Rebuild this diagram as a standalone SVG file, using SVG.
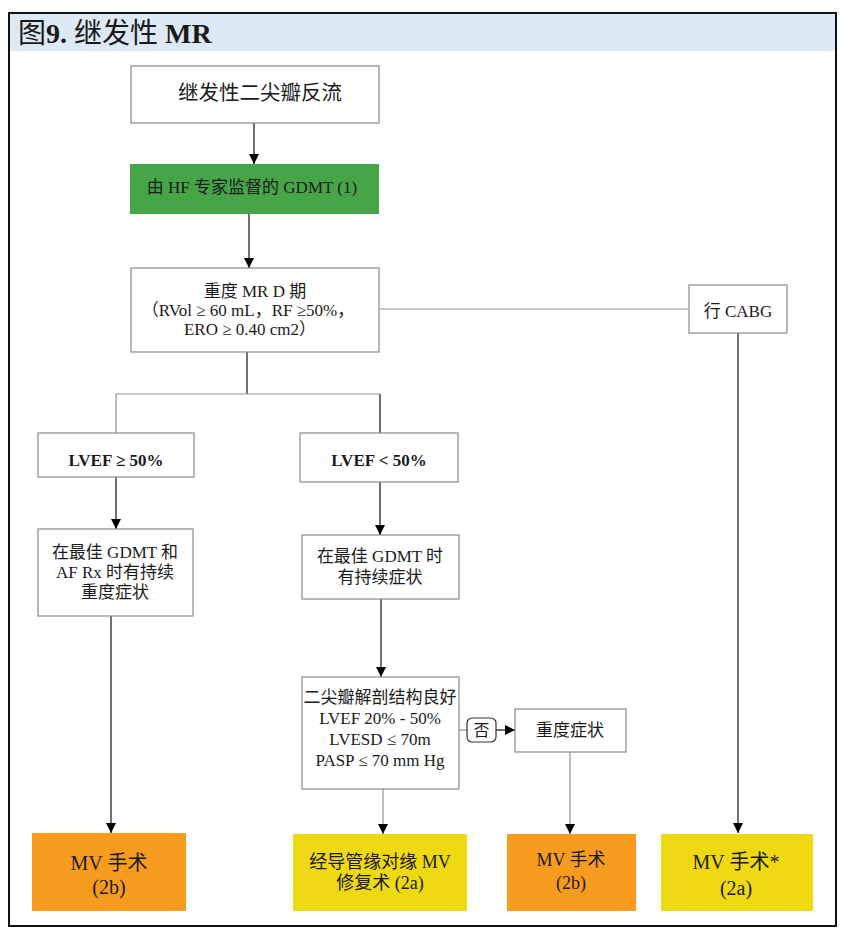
<svg xmlns="http://www.w3.org/2000/svg" width="848" height="934" viewBox="0 0 848 934">
<style>
text{font-family:"Liberation Serif","Noto Sans CJK SC",serif;fill:#1a1a1a;text-anchor:middle;dominant-baseline:central}
.box{fill:#fff;stroke:#8a8a8a;stroke-width:1.2}
.b{font-weight:bold}
.ln{fill:none;stroke:#111;stroke-width:1.2}
.lg{fill:none;stroke:#8f8f8f;stroke-width:1.2}
.t16{font-size:17px}
</style>
<defs>
<marker id="ar" viewBox="0 0 10 10" refX="10" refY="5" markerWidth="10" markerHeight="10" markerUnits="userSpaceOnUse" orient="auto">
<path d="M0,0 L10,5 L0,10 z" fill="#000"/>
</marker>
</defs>
<rect x="0" y="0" width="848" height="934" fill="#fff"/>
<rect x="10" y="14" width="825" height="37" fill="#dde9f5"/>
<rect x="9" y="13" width="827" height="913" fill="none" stroke="#111" stroke-width="2"/>
<text x="18" y="33" style="text-anchor:start;font-size:28px"><tspan>图</tspan><tspan font-weight="bold">9.</tspan><tspan> 继发性 </tspan><tspan font-weight="bold">MR</tspan></text>

<g id="connectors">
<line class="ln" x1="254" y1="123" x2="254" y2="164" marker-end="url(#ar)"/>
<line class="ln" x1="249" y1="214" x2="249" y2="268" marker-end="url(#ar)"/>
<line class="lg" x1="379" y1="309" x2="689" y2="309"/>
<line class="ln" x1="738" y1="333" x2="738" y2="833" marker-end="url(#ar)"/>
<line class="ln" x1="247" y1="352" x2="247" y2="394"/>
<polyline class="lg" points="116,433 116,394 380,394"/>
<line class="ln" x1="380" y1="394" x2="380" y2="433"/>
<line class="ln" x1="116" y1="477" x2="116" y2="529" marker-end="url(#ar)"/>
<line class="ln" x1="380" y1="482" x2="380" y2="535" marker-end="url(#ar)"/>
<line class="ln" x1="111" y1="616" x2="111" y2="833" marker-end="url(#ar)"/>
<line class="ln" x1="381" y1="599" x2="381" y2="677" marker-end="url(#ar)"/>
<line class="lg" x1="383" y1="789" x2="383" y2="834" marker-end="url(#ar)"/>
<line class="lg" x1="459" y1="730" x2="467" y2="730"/>
<line class="ln" x1="496" y1="730" x2="515" y2="730" marker-end="url(#ar)"/>
<line class="lg" x1="570" y1="752" x2="570" y2="834" marker-end="url(#ar)"/>
<g id="label-no">
<rect x="467" y="718" width="29" height="24" rx="5" fill="#fff" stroke="#333" stroke-width="1.2"/>
<text x="481.5" y="730" style="font-size:16px">否</text>
</g>
</g>

<g id="n-start">
<rect class="box" x="131" y="66" width="248" height="57"/>
<text x="260" y="93" style="font-size:20.5px">继发性二尖瓣反流</text>
</g>
<g id="n-gdmt">
<rect x="130" y="164" width="249" height="50" fill="#45a547"/>
<text x="252" y="187" class="t16">由 HF 专家监督的 GDMT (1)</text>
</g>
<g id="n-stageD">
<rect class="box" x="131" y="268" width="248" height="84"/>
<text x="255" y="291" class="t16">重度 MR D 期</text>
<text x="248" y="310" class="t16">（RVol ≥ 60 mL，RF ≥50%，</text>
<text x="250" y="329" class="t16">ERO ≥ 0.40 cm2）</text>
</g>
<g id="n-cabg">
<rect class="box" x="689" y="285" width="98" height="48"/>
<text x="738" y="311" class="t16">行 CABG</text>
</g>
<g id="n-lvef-hi">
<rect class="box" x="38" y="433" width="156" height="44"/>
<text x="116" y="460" class="t16 b">LVEF ≥ 50%</text>
</g>
<g id="n-lvef-lo">
<rect class="box" x="300" y="433" width="158" height="49"/>
<text x="379" y="460" class="t16 b">LVEF &lt; 50%</text>
</g>
<g id="n-left-sym">
<rect class="box" x="38" y="529" width="155" height="87"/>
<text x="115" y="552" class="t16">在最佳 GDMT 和</text>
<text x="115" y="572" class="t16">AF Rx 时有持续</text>
<text x="115" y="592" class="t16">重度症状</text>
</g>
<g id="n-right-sym">
<rect class="box" x="302" y="535" width="157" height="64"/>
<text x="380" y="556" class="t16">在最佳 GDMT 时</text>
<text x="380" y="577" class="t16">有持续症状</text>
</g>
<g id="n-anatomy">
<rect class="box" x="302" y="677" width="157" height="112"/>
<text x="380" y="697" class="t16">二尖瓣解剖结构良好</text>
<text x="380" y="718" class="t16">LVEF 20% - 50%</text>
<text x="380" y="739" class="t16">LVESD ≤ 70m</text>
<text x="380" y="760" class="t16">PASP ≤ 70 mm Hg</text>
</g>
<g id="n-severe">
<rect class="box" x="515" y="709" width="111" height="43"/>
<text x="570" y="730" class="t16">重度症状</text>
</g>
<g id="n-mv-left">
<rect x="32" y="833" width="154" height="78" fill="#f89c1f"/>
<text x="109" y="863" style="font-size:20px">MV 手术</text>
<text x="109" y="887" style="font-size:20px">(2b)</text>
</g>
<g id="n-teer">
<rect x="293" y="834" width="174" height="77" fill="#efd912"/>
<text x="380" y="862" style="font-size:18px">经导管缘对缘 MV</text>
<text x="380" y="883" style="font-size:18px">修复术 (2a)</text>
</g>
<g id="n-mv-mid">
<rect x="507" y="834" width="129" height="77" fill="#f89c1f"/>
<text x="571" y="860" style="font-size:18px">MV 手术</text>
<text x="571" y="883" style="font-size:18px">(2b)</text>
</g>
<g id="n-mv-right">
<rect x="661" y="834" width="152" height="77" fill="#efd912"/>
<text x="736" y="862" style="font-size:20px">MV 手术*</text>
<text x="736" y="888" style="font-size:20px">(2a)</text>
</g>
</svg>
